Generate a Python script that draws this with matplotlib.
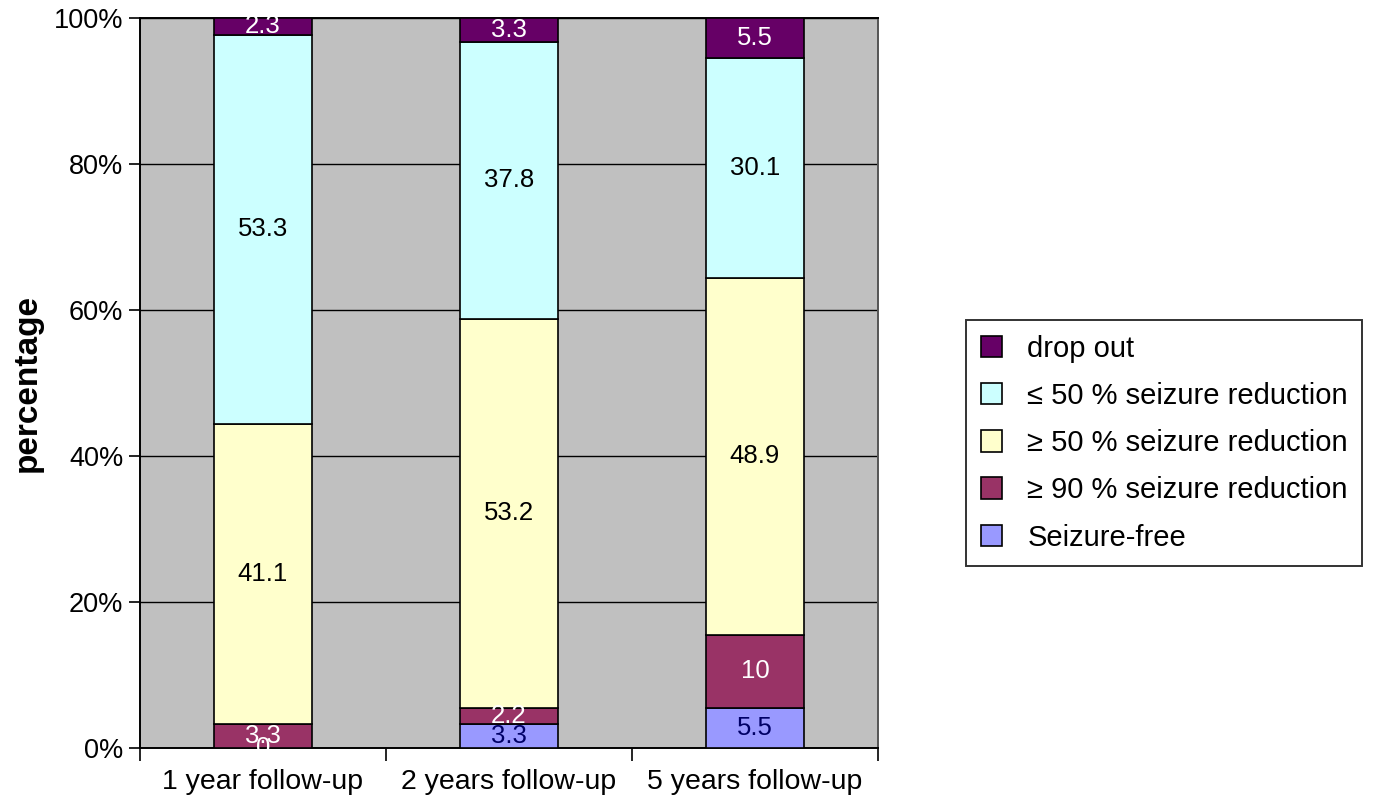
import matplotlib
matplotlib.use("Agg")
import matplotlib.pyplot as plt
from matplotlib.patches import Patch
import numpy as np

plt.rcParams["font.family"] = ["Liberation Sans", "DejaVu Sans"]

periods = ["1 year follow-up", "2 years follow-up", "5 years follow-up"]
categories = [
    "Seizure-free",
    "\u2265 90 % seizure reduction",
    "\u2265 50 % seizure reduction",
    "\u2264 50 % seizure reduction",
    "drop out",
]
seizure_free = [0, 3.3, 5.5]
reduction_90 = [3.3, 2.2, 10]
reduction_50_up = [41.1, 53.2, 48.9]
reduction_50_down = [53.3, 37.8, 30.1]
drop_out = [2.3, 3.3, 5.5]

colors = ["#9999FF", "#993366", "#FFFFCC", "#CCFFFF", "#660066"]
label_colors = ["#000066", "white", "black", "black", "white"]

series = np.array([seizure_free, reduction_90, reduction_50_up,
                   reduction_50_down, drop_out], dtype=float)
# 100% stacked: each column is scaled to its own total
shares = series / series.sum(axis=0) * 100

fig = plt.figure(figsize=(13.75, 7.97), dpi=100)
ax = fig.add_axes([140 / 1375, 49 / 797, 738 / 1375, 730 / 797])
ax.set_facecolor("#C0C0C0")

x = np.arange(len(periods))
bottom = np.zeros(len(periods))
for vals, shr, col, lcol in zip(series, shares, colors, label_colors):
    ax.bar(x, shr, width=0.4, bottom=bottom, color=col, edgecolor="black",
           linewidth=1.2, zorder=3)
    for xi, v, s, b in zip(x, vals, shr, bottom):
        # empty segments sit on the axis, so their label goes white
        c = lcol if v > 0 else "white"
        ax.text(xi, b + s / 2, f"{v:g}", ha="center", va="center",
                fontsize=18.5, color=c, zorder=4)
    bottom += shr

ax.set_xlim(-0.5, 2.5)
ax.set_ylim(0, 100)
ax.set_yticks(np.arange(0, 101, 20))
ax.set_yticklabels([f"{v}%" for v in range(0, 101, 20)], fontsize=19.5)
ax.yaxis.grid(True, color="black", linewidth=1.0, zorder=1)
ax.set_axisbelow(True)

ax.set_xticks(x)
ax.set_xticklabels(periods, fontsize=20.5)
ax.set_xticks([-0.5, 0.5, 1.5, 2.5], minor=True)
ax.tick_params(axis="x", which="major", length=0, pad=15)
ax.tick_params(axis="x", which="minor", length=9, width=1.2, direction="out")
ax.tick_params(axis="y", length=8, width=1.2, direction="out", pad=4)

for side in ["left", "bottom", "top"]:
    ax.spines[side].set_color("black")
    ax.spines[side].set_linewidth(1.4)
ax.spines["right"].set_color("#555555")
ax.spines["right"].set_linewidth(1.4)

ax.set_ylabel("percentage", fontsize=24, fontweight="bold", labelpad=8)

handles = [Patch(facecolor=c, edgecolor="black", linewidth=1.2, label=l)
           for c, l in zip(colors, categories)][::-1]
leg = fig.legend(handles=handles, loc="upper left",
                 bbox_to_anchor=(966 / 1375, 1 - 320 / 797),
                 fontsize=21, frameon=True, fancybox=False,
                 edgecolor="black", handlelength=0.75, handleheight=0.75,
                 handletextpad=0.85, labelspacing=0.66, borderpad=0.5,
                 borderaxespad=0)
leg.get_frame().set_linewidth(1.4)

fig.savefig("out.png", dpi=100, facecolor="white")
